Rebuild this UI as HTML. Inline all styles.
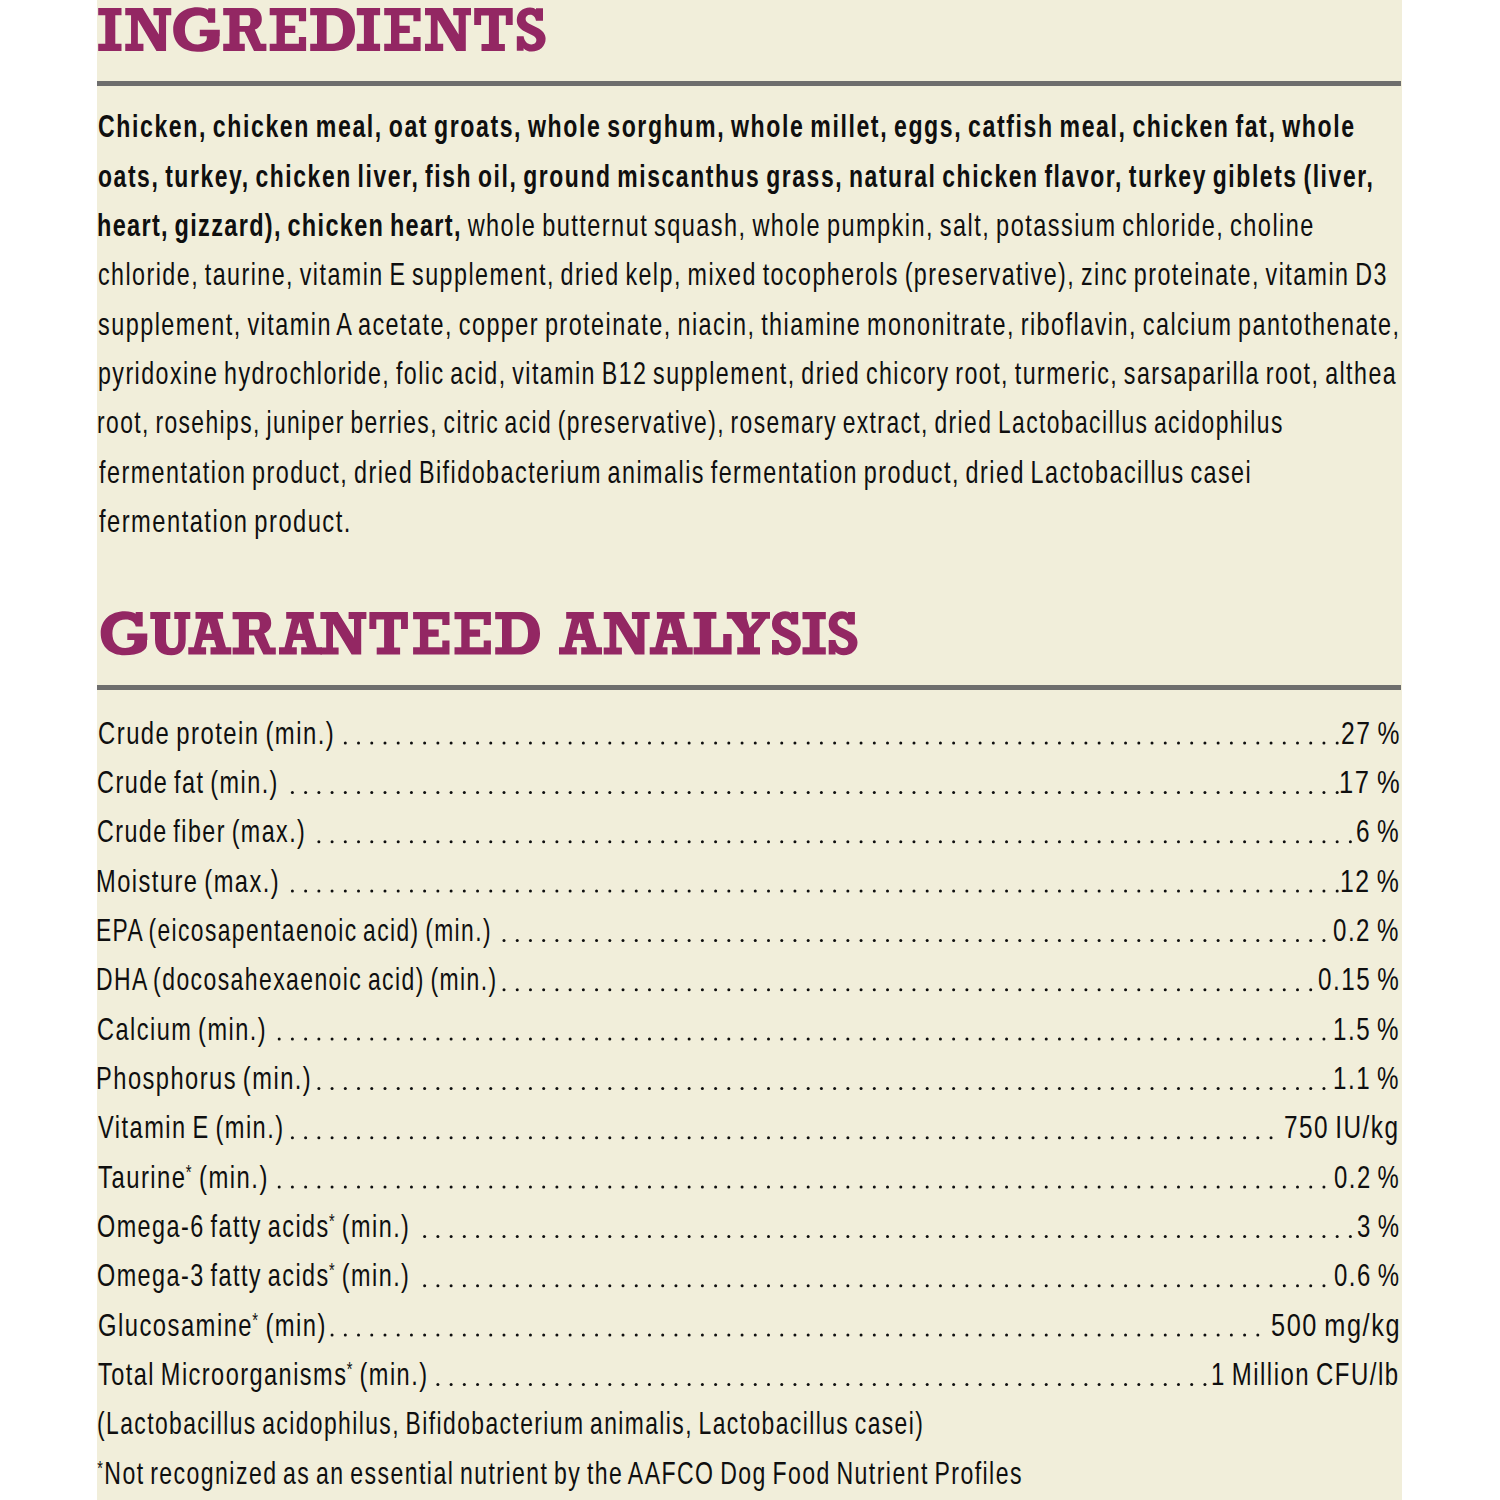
<!DOCTYPE html>
<html><head><meta charset="utf-8"><style>
html,body{margin:0;padding:0;background:#fff;}
body{width:1500px;height:1500px;position:relative;overflow:hidden;font-family:"Liberation Sans",sans-serif;color:#0f0f0f;}
.bg{position:absolute;left:97px;top:0;width:1305px;height:1500px;background:#f1eeda;}
.rule{position:absolute;left:97px;width:1304px;height:5px;background:#6e6e6d;}
.t{position:absolute;white-space:nowrap;font-size:32px;line-height:32px;height:32px;transform-origin:0 0;}
.h{position:absolute;white-space:nowrap;font-family:"Liberation Serif",serif;font-weight:bold;color:#932763;transform-origin:0 0;}
b{font-weight:bold;letter-spacing:2.2px;}
.t{letter-spacing:2.0px;word-spacing:-3px;}
sup{font-size:0.62em;vertical-align:0;position:relative;top:-0.45em;margin-left:-1px;}
</style></head><body>
<div class="bg"></div>
<div class="rule" style="top:81px"></div>
<div class="rule" style="top:685px"></div>

<div class="t" style="left:97.88px;top:110.31px;transform:scaleX(0.7220)"><b>Chicken, chicken meal, oat groats, whole sorghum, whole millet, eggs, catfish meal, chicken fat, whole</b></div>
<div class="t" style="left:98.08px;top:159.64px;transform:scaleX(0.7162)"><b>oats, turkey, chicken liver, fish oil, ground miscanthus grass, natural chicken flavor, turkey giblets (liver,</b></div>
<div class="t" style="left:97.33px;top:208.97px;transform:scaleX(0.7345)"><b style="letter-spacing:1.8px">heart, gizzard), chicken heart,</b> whole butternut squash, whole pumpkin, salt, potassium chloride, choline</div>
<div class="t" style="left:97.87px;top:258.30px;transform:scaleX(0.7272)">chloride, taurine, vitamin E supplement, dried kelp, mixed tocopherols (preservative), zinc proteinate, vitamin D3</div>
<div class="t" style="left:98.23px;top:307.63px;transform:scaleX(0.7318)">supplement, vitamin A acetate, copper proteinate, niacin, thiamine mononitrate, riboflavin, calcium pantothenate,</div>
<div class="t" style="left:98.15px;top:356.96px;transform:scaleX(0.7256)">pyridoxine hydrochloride, folic acid, vitamin B12 supplement, dried chicory root, turmeric, sarsaparilla root, althea</div>
<div class="t" style="left:97.17px;top:406.29px;transform:scaleX(0.7128)">root, rosehips, juniper berries, citric acid (preservative), rosemary extract, dried Lactobacillus acidophilus</div>
<div class="t" style="left:98.60px;top:455.62px;transform:scaleX(0.7299)">fermentation product, dried Bifidobacterium animalis fermentation product, dried Lactobacillus casei</div>
<div class="t" style="left:98.80px;top:504.95px;transform:scaleX(0.7406)">fermentation product.</div>
<div class="t" style="left:98.08px;top:716.61px;transform:scaleX(0.7448)">Crude protein (min.)</div>
<div class="t" style="left:1341.44px;top:716.61px;transform:scaleX(0.7705)">27 %</div>
<div class="t" style="left:97.10px;top:765.94px;transform:scaleX(0.7326)">Crude fat (min.)</div>
<div class="t" style="left:1339.40px;top:765.94px;transform:scaleX(0.7978)">17 %</div>
<div class="t" style="left:97.11px;top:815.27px;transform:scaleX(0.7270)">Crude fiber (max.)</div>
<div class="t" style="left:1356.26px;top:815.27px;transform:scaleX(0.7604)">6 %</div>
<div class="t" style="left:96.35px;top:864.60px;transform:scaleX(0.7389)">Moisture (max.)</div>
<div class="t" style="left:1339.85px;top:864.60px;transform:scaleX(0.7755)">12 %</div>
<div class="t" style="left:96.42px;top:913.93px;transform:scaleX(0.7115)">EPA (eicosapentaenoic acid) (min.)</div>
<div class="t" style="left:1333.45px;top:913.93px;transform:scaleX(0.7518)">0.2 %</div>
<div class="t" style="left:96.41px;top:963.26px;transform:scaleX(0.7168)">DHA (docosahexaenoic acid) (min.)</div>
<div class="t" style="left:1318.04px;top:963.26px;transform:scaleX(0.7567)">0.15 %</div>
<div class="t" style="left:97.10px;top:1012.59px;transform:scaleX(0.7353)">Calcium (min.)</div>
<div class="t" style="left:1333.09px;top:1012.59px;transform:scaleX(0.7544)">1.5 %</div>
<div class="t" style="left:96.35px;top:1061.92px;transform:scaleX(0.7392)">Phosphorus (min.)</div>
<div class="t" style="left:1333.09px;top:1061.92px;transform:scaleX(0.7544)">1.1 %</div>
<div class="t" style="left:98.20px;top:1111.25px;transform:scaleX(0.7374)">Vitamin E (min.)</div>
<div class="t" style="left:1284.46px;top:1111.25px;transform:scaleX(0.7608)">750 IU/kg</div>
<div class="t" style="left:97.83px;top:1160.58px;transform:scaleX(0.7449)">Taurine<sup>*</sup> (min.)</div>
<div class="t" style="left:1333.85px;top:1160.58px;transform:scaleX(0.7458)">0.2 %</div>
<div class="t" style="left:97.10px;top:1209.91px;transform:scaleX(0.7309)">Omega-6 fatty acids<sup>*</sup> (min.)</div>
<div class="t" style="left:1357.05px;top:1209.91px;transform:scaleX(0.7490)">3 %</div>
<div class="t" style="left:97.10px;top:1259.24px;transform:scaleX(0.7309)">Omega-3 fatty acids<sup>*</sup> (min.)</div>
<div class="t" style="left:1334.05px;top:1259.24px;transform:scaleX(0.7482)">0.6 %</div>
<div class="t" style="left:98.09px;top:1308.57px;transform:scaleX(0.7428)">Glucosamine<sup>*</sup> (min)</div>
<div class="t" style="left:1270.61px;top:1308.57px;transform:scaleX(0.7912)">500 mg/kg</div>
<div class="t" style="left:97.83px;top:1357.90px;transform:scaleX(0.7349)">Total Microorganisms<sup>*</sup> (min.)</div>
<div class="t" style="left:1210.50px;top:1357.90px;transform:scaleX(0.7490)">1 Million CFU/lb</div>
<div class="t" style="left:97.13px;top:1407.23px;transform:scaleX(0.7136)">(Lactobacillus acidophilus, Bifidobacterium animalis, Lactobacillus casei)</div>
<div class="t" style="left:98.40px;top:1456.56px;transform:scaleX(0.7207)"><sup>*</sup>Not recognized as an essential nutrient by the AAFCO Dog Food Nutrient Profiles</div>
<svg style="position:absolute;left:0;top:0" width="1500" height="1500" fill="#932763" fill-rule="evenodd"><path transform="translate(98.20,8.10) scale(1,1.0000)" d="M0,0H23.3V7.2H17.1V35.6H23.3V42.8H0V35.6H7.1V7.2H0Z"/><path transform="translate(125.25,8.10) scale(1,0.9953)" d="M0,0H17.4L33.6,26.4V7.2H28.2V0H46V7.2H40.8V43H31.2L12.6,11.8V35.8H18.2V43H0V35.8H5.8V7.2H0Z"/><path transform="translate(173.20,7.30) scale(1,1.0023)" d="M35,0.9H42V15.3H35C34,10.6 30.5,8.3 25,8.3C16.5,8.3 11.7,13.8 11.7,22.3C11.7,31 16.5,37 24.5,37C29.5,37 33.6,34.8 33.6,31V29H26.6V22.3H46.6V29H46.3V33C46.3,40 38,44.3 24,44.3C9.5,44.3 0,35.8 0,22.2C0,8.6 9.8,0 24.2,0C29,0 32.6,1 35,2.6Z"/><path transform="translate(223.20,8.10) scale(1,1.0047)" d="M0,0H28.4C34.5,0 38.6,4.5 38.6,11C38.6,16.3 35.8,19.8 31.6,21.4L37.6,35.6H43.2V42.6H30.8L21.4,23.6H16.4V35.6H21.6V42.6H0V35.6H6.2V7.2H0Z M16.4,7.2V17.8H24.5C26.6,17.8 27.2,16 27.2,12.5C27.2,9 26.6,7.2 24.5,7.2Z"/><path transform="translate(269.70,8.10) scale(1,1.0000)" d="M0,0H36.4V13.2H29.2V7.2H15.2V17.6H25.6V24.8H15.2V35.6H29.2V28.8H36.4V42.8H0V35.6H6.8V7.2H0Z"/><path transform="translate(310.20,8.10) scale(1,1.0000)" d="M0,0H24C36,0 44.8,7.5 44.8,21.4C44.8,35.3 36,42.8 24,42.8H0V35.6H6.8V7.2H0Z M16.4,7.2V35.6H22C29,35.6 32.8,30.8 32.8,21.4C32.8,12 29,7.2 22,7.2Z"/><path transform="translate(356.80,8.10) scale(1,1.0000)" d="M0,0H23.3V7.2H17.1V35.6H23.3V42.8H0V35.6H7.1V7.2H0Z"/><path transform="translate(384.20,8.10) scale(1,1.0000)" d="M0,0H36.4V13.2H29.2V7.2H15.2V17.6H25.6V24.8H15.2V35.6H29.2V28.8H36.4V42.8H0V35.6H6.8V7.2H0Z"/><path transform="translate(425.00,8.10) scale(1,0.9953)" d="M0,0H17.4L33.6,26.4V7.2H28.2V0H46V7.2H40.8V43H31.2L12.6,11.8V35.8H18.2V43H0V35.8H5.8V7.2H0Z"/><path transform="translate(474.20,8.10) scale(1,1.0071)" d="M0,0H38.5V16.9H31.6V7.4H24.7V35.6H30.7V42.5H7.3V35.6H14.7V7.4H6.9V16.9H0Z"/><path transform="translate(516.80,7.40) scale(1,1.0000)" d="M19.2,0.8H26.2V13.4H19.2C18.6,9.8 16.5,7.4 13.4,7.4C10.5,7.4 8.8,9.2 8.8,11.6C8.8,14.2 10.8,15.6 14.5,17.4L20.5,20.4C26,23.2 28.8,26.6 28.8,31.4C28.8,38.8 23,44.2 15,44.2C11.5,44.2 8.6,43 6.8,40.8V43.4H0V28.8H6.8C7.6,33.8 10.5,37 14.6,37C17.8,37 19.6,35.2 19.6,32.6C19.6,30.2 17.8,28.8 14,27L8,24C2.8,21.4 0,18 0,12.6C0,5.2 5.6,0 13.2,0C16,0 18,0.8 19.2,2.2Z"/><path transform="translate(100.70,611.20) scale(1,0.9953)" d="M35,0.9H42V15.3H35C34,10.6 30.5,8.3 25,8.3C16.5,8.3 11.7,13.8 11.7,22.3C11.7,31 16.5,37 24.5,37C29.5,37 33.6,34.8 33.6,31V29H26.6V22.3H46.6V29H46.3V33C46.3,40 38,44.3 24,44.3C9.5,44.3 0,35.8 0,22.2C0,8.6 9.8,0 24.2,0C29,0 32.6,1 35,2.6Z"/><path transform="translate(150.30,612.00) scale(1,0.9977)" d="M0,0H20V7H15.7V27.5C15.7,33.5 18,36.2 22,36.2C26,36.2 28,33.5 28,27.5V7H24V0H40V7H35.4V27.5C35.4,38 30,43.3 21,43.3C10,43.3 4.7,38 4.7,27.5V7H0Z"/><path transform="translate(188.30,612.00) scale(1,1.0024)" d="M7.2,0H34.8V6.8H29.2L37.6,35.2H43V42.4H22.2V35.2H28L25.8,28H14.6L12.8,35.2H17.8V42.4H0V35.2H5.6L12.8,6.8H7.2Z M20.4,10L17.2,21.6H23.6Z"/><path transform="translate(232.60,612.00) scale(1,0.9977)" d="M0,0H28.4C34.5,0 38.6,4.5 38.6,11C38.6,16.3 35.8,19.8 31.6,21.4L37.6,35.6H43.2V42.6H30.8L21.4,23.6H16.4V35.6H21.6V42.6H0V35.6H6.2V7.2H0Z M16.4,7.2V17.8H24.5C26.6,17.8 27.2,16 27.2,12.5C27.2,9 26.6,7.2 24.5,7.2Z"/><path transform="translate(279.00,612.00) scale(1,1.0024)" d="M7.2,0H34.8V6.8H29.2L37.6,35.2H43V42.4H22.2V35.2H28L25.8,28H14.6L12.8,35.2H17.8V42.4H0V35.2H5.6L12.8,6.8H7.2Z M20.4,10L17.2,21.6H23.6Z"/><path transform="translate(320.40,612.00) scale(1,0.9884)" d="M0,0H17.4L33.6,26.4V7.2H28.2V0H46V7.2H40.8V43H31.2L12.6,11.8V35.8H18.2V43H0V35.8H5.8V7.2H0Z"/><path transform="translate(369.40,612.00) scale(1,1.0000)" d="M0,0H38.5V16.9H31.6V7.4H24.7V35.6H30.7V42.5H7.3V35.6H14.7V7.4H6.9V16.9H0Z"/><path transform="translate(413.10,612.00) scale(1,0.9930)" d="M0,0H36.4V13.2H29.2V7.2H15.2V17.6H25.6V24.8H15.2V35.6H29.2V28.8H36.4V42.8H0V35.6H6.8V7.2H0Z"/><path transform="translate(454.50,612.00) scale(1,0.9930)" d="M0,0H36.4V13.2H29.2V7.2H15.2V17.6H25.6V24.8H15.2V35.6H29.2V28.8H36.4V42.8H0V35.6H6.8V7.2H0Z"/><path transform="translate(495.20,612.00) scale(1,0.9930)" d="M0,0H24C36,0 44.8,7.5 44.8,21.4C44.8,35.3 36,42.8 24,42.8H0V35.6H6.8V7.2H0Z M16.4,7.2V35.6H22C29,35.6 32.8,30.8 32.8,21.4C32.8,12 29,7.2 22,7.2Z"/><path transform="translate(559.00,612.00) scale(1,1.0024)" d="M7.2,0H34.8V6.8H29.2L37.6,35.2H43V42.4H22.2V35.2H28L25.8,28H14.6L12.8,35.2H17.8V42.4H0V35.2H5.6L12.8,6.8H7.2Z M20.4,10L17.2,21.6H23.6Z"/><path transform="translate(603.70,612.00) scale(1,0.9884)" d="M0,0H17.4L33.6,26.4V7.2H28.2V0H46V7.2H40.8V43H31.2L12.6,11.8V35.8H18.2V43H0V35.8H5.8V7.2H0Z"/><path transform="translate(649.70,612.00) scale(1,1.0024)" d="M7.2,0H34.8V6.8H29.2L37.6,35.2H43V42.4H22.2V35.2H28L25.8,28H14.6L12.8,35.2H17.8V42.4H0V35.2H5.6L12.8,6.8H7.2Z M20.4,10L17.2,21.6H23.6Z"/><path transform="translate(693.60,612.00) scale(1,1.0024)" d="M0,0H22.8V6.8H17.6V35.2H29.6V22H38V42.4H0V35.2H6V6.8H0Z"/><path transform="translate(726.80,612.00) scale(1,1.0024)" d="M0,0H20V6.8L22.8,16L32,6.8H24.8V0H43.2V6.8H39.2L27.2,22.4V35.2H33.2V42.4H10.4V35.2H16.4V22.4L4.8,6.8H0Z"/><path transform="translate(772.00,611.30) scale(1,0.9930)" d="M19.2,0.8H26.2V13.4H19.2C18.6,9.8 16.5,7.4 13.4,7.4C10.5,7.4 8.8,9.2 8.8,11.6C8.8,14.2 10.8,15.6 14.5,17.4L20.5,20.4C26,23.2 28.8,26.6 28.8,31.4C28.8,38.8 23,44.2 15,44.2C11.5,44.2 8.6,43 6.8,40.8V43.4H0V28.8H6.8C7.6,33.8 10.5,37 14.6,37C17.8,37 19.6,35.2 19.6,32.6C19.6,30.2 17.8,28.8 14,27L8,24C2.8,21.4 0,18 0,12.6C0,5.2 5.6,0 13.2,0C16,0 18,0.8 19.2,2.2Z"/><path transform="translate(802.50,612.00) scale(1,0.9930)" d="M0,0H23.3V7.2H17.1V35.6H23.3V42.8H0V35.6H7.1V7.2H0Z"/><path transform="translate(828.70,611.30) scale(1,0.9930)" d="M19.2,0.8H26.2V13.4H19.2C18.6,9.8 16.5,7.4 13.4,7.4C10.5,7.4 8.8,9.2 8.8,11.6C8.8,14.2 10.8,15.6 14.5,17.4L20.5,20.4C26,23.2 28.8,26.6 28.8,31.4C28.8,38.8 23,44.2 15,44.2C11.5,44.2 8.6,43 6.8,40.8V43.4H0V28.8H6.8C7.6,33.8 10.5,37 14.6,37C17.8,37 19.6,35.2 19.6,32.6C19.6,30.2 17.8,28.8 14,27L8,24C2.8,21.4 0,18 0,12.6C0,5.2 5.6,0 13.2,0C16,0 18,0.8 19.2,2.2Z"/></svg>
<svg style="position:absolute;left:0;top:0" width="1500" height="1500" fill="#0f0f0f"><circle cx="345.30" cy="743.1" r="1.5"/><circle cx="358.53" cy="743.1" r="1.5"/><circle cx="371.75" cy="743.1" r="1.5"/><circle cx="384.98" cy="743.1" r="1.5"/><circle cx="398.20" cy="743.1" r="1.5"/><circle cx="411.43" cy="743.1" r="1.5"/><circle cx="424.65" cy="743.1" r="1.5"/><circle cx="437.88" cy="743.1" r="1.5"/><circle cx="451.10" cy="743.1" r="1.5"/><circle cx="464.32" cy="743.1" r="1.5"/><circle cx="477.55" cy="743.1" r="1.5"/><circle cx="490.77" cy="743.1" r="1.5"/><circle cx="504.00" cy="743.1" r="1.5"/><circle cx="517.23" cy="743.1" r="1.5"/><circle cx="530.45" cy="743.1" r="1.5"/><circle cx="543.67" cy="743.1" r="1.5"/><circle cx="556.90" cy="743.1" r="1.5"/><circle cx="570.12" cy="743.1" r="1.5"/><circle cx="583.35" cy="743.1" r="1.5"/><circle cx="596.58" cy="743.1" r="1.5"/><circle cx="609.80" cy="743.1" r="1.5"/><circle cx="623.02" cy="743.1" r="1.5"/><circle cx="636.25" cy="743.1" r="1.5"/><circle cx="649.48" cy="743.1" r="1.5"/><circle cx="662.70" cy="743.1" r="1.5"/><circle cx="675.92" cy="743.1" r="1.5"/><circle cx="689.15" cy="743.1" r="1.5"/><circle cx="702.38" cy="743.1" r="1.5"/><circle cx="715.60" cy="743.1" r="1.5"/><circle cx="728.83" cy="743.1" r="1.5"/><circle cx="742.05" cy="743.1" r="1.5"/><circle cx="755.27" cy="743.1" r="1.5"/><circle cx="768.50" cy="743.1" r="1.5"/><circle cx="781.73" cy="743.1" r="1.5"/><circle cx="794.95" cy="743.1" r="1.5"/><circle cx="808.17" cy="743.1" r="1.5"/><circle cx="821.40" cy="743.1" r="1.5"/><circle cx="834.62" cy="743.1" r="1.5"/><circle cx="847.85" cy="743.1" r="1.5"/><circle cx="861.08" cy="743.1" r="1.5"/><circle cx="874.30" cy="743.1" r="1.5"/><circle cx="887.53" cy="743.1" r="1.5"/><circle cx="900.75" cy="743.1" r="1.5"/><circle cx="913.97" cy="743.1" r="1.5"/><circle cx="927.20" cy="743.1" r="1.5"/><circle cx="940.42" cy="743.1" r="1.5"/><circle cx="953.65" cy="743.1" r="1.5"/><circle cx="966.88" cy="743.1" r="1.5"/><circle cx="980.10" cy="743.1" r="1.5"/><circle cx="993.33" cy="743.1" r="1.5"/><circle cx="1006.55" cy="743.1" r="1.5"/><circle cx="1019.78" cy="743.1" r="1.5"/><circle cx="1033.00" cy="743.1" r="1.5"/><circle cx="1046.22" cy="743.1" r="1.5"/><circle cx="1059.45" cy="743.1" r="1.5"/><circle cx="1072.67" cy="743.1" r="1.5"/><circle cx="1085.90" cy="743.1" r="1.5"/><circle cx="1099.12" cy="743.1" r="1.5"/><circle cx="1112.35" cy="743.1" r="1.5"/><circle cx="1125.58" cy="743.1" r="1.5"/><circle cx="1138.80" cy="743.1" r="1.5"/><circle cx="1152.03" cy="743.1" r="1.5"/><circle cx="1165.25" cy="743.1" r="1.5"/><circle cx="1178.47" cy="743.1" r="1.5"/><circle cx="1191.70" cy="743.1" r="1.5"/><circle cx="1204.92" cy="743.1" r="1.5"/><circle cx="1218.15" cy="743.1" r="1.5"/><circle cx="1231.38" cy="743.1" r="1.5"/><circle cx="1244.60" cy="743.1" r="1.5"/><circle cx="1257.83" cy="743.1" r="1.5"/><circle cx="1271.05" cy="743.1" r="1.5"/><circle cx="1284.28" cy="743.1" r="1.5"/><circle cx="1297.50" cy="743.1" r="1.5"/><circle cx="1310.72" cy="743.1" r="1.5"/><circle cx="1323.95" cy="743.1" r="1.5"/><circle cx="1337.17" cy="743.1" r="1.5"/><circle cx="292.40" cy="792.4" r="1.5"/><circle cx="305.62" cy="792.4" r="1.5"/><circle cx="318.85" cy="792.4" r="1.5"/><circle cx="332.07" cy="792.4" r="1.5"/><circle cx="345.30" cy="792.4" r="1.5"/><circle cx="358.53" cy="792.4" r="1.5"/><circle cx="371.75" cy="792.4" r="1.5"/><circle cx="384.98" cy="792.4" r="1.5"/><circle cx="398.20" cy="792.4" r="1.5"/><circle cx="411.43" cy="792.4" r="1.5"/><circle cx="424.65" cy="792.4" r="1.5"/><circle cx="437.88" cy="792.4" r="1.5"/><circle cx="451.10" cy="792.4" r="1.5"/><circle cx="464.32" cy="792.4" r="1.5"/><circle cx="477.55" cy="792.4" r="1.5"/><circle cx="490.77" cy="792.4" r="1.5"/><circle cx="504.00" cy="792.4" r="1.5"/><circle cx="517.23" cy="792.4" r="1.5"/><circle cx="530.45" cy="792.4" r="1.5"/><circle cx="543.67" cy="792.4" r="1.5"/><circle cx="556.90" cy="792.4" r="1.5"/><circle cx="570.12" cy="792.4" r="1.5"/><circle cx="583.35" cy="792.4" r="1.5"/><circle cx="596.58" cy="792.4" r="1.5"/><circle cx="609.80" cy="792.4" r="1.5"/><circle cx="623.02" cy="792.4" r="1.5"/><circle cx="636.25" cy="792.4" r="1.5"/><circle cx="649.48" cy="792.4" r="1.5"/><circle cx="662.70" cy="792.4" r="1.5"/><circle cx="675.92" cy="792.4" r="1.5"/><circle cx="689.15" cy="792.4" r="1.5"/><circle cx="702.38" cy="792.4" r="1.5"/><circle cx="715.60" cy="792.4" r="1.5"/><circle cx="728.83" cy="792.4" r="1.5"/><circle cx="742.05" cy="792.4" r="1.5"/><circle cx="755.27" cy="792.4" r="1.5"/><circle cx="768.50" cy="792.4" r="1.5"/><circle cx="781.73" cy="792.4" r="1.5"/><circle cx="794.95" cy="792.4" r="1.5"/><circle cx="808.17" cy="792.4" r="1.5"/><circle cx="821.40" cy="792.4" r="1.5"/><circle cx="834.62" cy="792.4" r="1.5"/><circle cx="847.85" cy="792.4" r="1.5"/><circle cx="861.08" cy="792.4" r="1.5"/><circle cx="874.30" cy="792.4" r="1.5"/><circle cx="887.53" cy="792.4" r="1.5"/><circle cx="900.75" cy="792.4" r="1.5"/><circle cx="913.97" cy="792.4" r="1.5"/><circle cx="927.20" cy="792.4" r="1.5"/><circle cx="940.42" cy="792.4" r="1.5"/><circle cx="953.65" cy="792.4" r="1.5"/><circle cx="966.88" cy="792.4" r="1.5"/><circle cx="980.10" cy="792.4" r="1.5"/><circle cx="993.33" cy="792.4" r="1.5"/><circle cx="1006.55" cy="792.4" r="1.5"/><circle cx="1019.78" cy="792.4" r="1.5"/><circle cx="1033.00" cy="792.4" r="1.5"/><circle cx="1046.22" cy="792.4" r="1.5"/><circle cx="1059.45" cy="792.4" r="1.5"/><circle cx="1072.67" cy="792.4" r="1.5"/><circle cx="1085.90" cy="792.4" r="1.5"/><circle cx="1099.12" cy="792.4" r="1.5"/><circle cx="1112.35" cy="792.4" r="1.5"/><circle cx="1125.58" cy="792.4" r="1.5"/><circle cx="1138.80" cy="792.4" r="1.5"/><circle cx="1152.03" cy="792.4" r="1.5"/><circle cx="1165.25" cy="792.4" r="1.5"/><circle cx="1178.47" cy="792.4" r="1.5"/><circle cx="1191.70" cy="792.4" r="1.5"/><circle cx="1204.92" cy="792.4" r="1.5"/><circle cx="1218.15" cy="792.4" r="1.5"/><circle cx="1231.38" cy="792.4" r="1.5"/><circle cx="1244.60" cy="792.4" r="1.5"/><circle cx="1257.83" cy="792.4" r="1.5"/><circle cx="1271.05" cy="792.4" r="1.5"/><circle cx="1284.28" cy="792.4" r="1.5"/><circle cx="1297.50" cy="792.4" r="1.5"/><circle cx="1310.72" cy="792.4" r="1.5"/><circle cx="1323.95" cy="792.4" r="1.5"/><circle cx="1337.17" cy="792.4" r="1.5"/><circle cx="318.85" cy="841.8" r="1.5"/><circle cx="332.07" cy="841.8" r="1.5"/><circle cx="345.30" cy="841.8" r="1.5"/><circle cx="358.53" cy="841.8" r="1.5"/><circle cx="371.75" cy="841.8" r="1.5"/><circle cx="384.98" cy="841.8" r="1.5"/><circle cx="398.20" cy="841.8" r="1.5"/><circle cx="411.43" cy="841.8" r="1.5"/><circle cx="424.65" cy="841.8" r="1.5"/><circle cx="437.88" cy="841.8" r="1.5"/><circle cx="451.10" cy="841.8" r="1.5"/><circle cx="464.32" cy="841.8" r="1.5"/><circle cx="477.55" cy="841.8" r="1.5"/><circle cx="490.77" cy="841.8" r="1.5"/><circle cx="504.00" cy="841.8" r="1.5"/><circle cx="517.23" cy="841.8" r="1.5"/><circle cx="530.45" cy="841.8" r="1.5"/><circle cx="543.67" cy="841.8" r="1.5"/><circle cx="556.90" cy="841.8" r="1.5"/><circle cx="570.12" cy="841.8" r="1.5"/><circle cx="583.35" cy="841.8" r="1.5"/><circle cx="596.58" cy="841.8" r="1.5"/><circle cx="609.80" cy="841.8" r="1.5"/><circle cx="623.02" cy="841.8" r="1.5"/><circle cx="636.25" cy="841.8" r="1.5"/><circle cx="649.48" cy="841.8" r="1.5"/><circle cx="662.70" cy="841.8" r="1.5"/><circle cx="675.92" cy="841.8" r="1.5"/><circle cx="689.15" cy="841.8" r="1.5"/><circle cx="702.38" cy="841.8" r="1.5"/><circle cx="715.60" cy="841.8" r="1.5"/><circle cx="728.83" cy="841.8" r="1.5"/><circle cx="742.05" cy="841.8" r="1.5"/><circle cx="755.27" cy="841.8" r="1.5"/><circle cx="768.50" cy="841.8" r="1.5"/><circle cx="781.73" cy="841.8" r="1.5"/><circle cx="794.95" cy="841.8" r="1.5"/><circle cx="808.17" cy="841.8" r="1.5"/><circle cx="821.40" cy="841.8" r="1.5"/><circle cx="834.62" cy="841.8" r="1.5"/><circle cx="847.85" cy="841.8" r="1.5"/><circle cx="861.08" cy="841.8" r="1.5"/><circle cx="874.30" cy="841.8" r="1.5"/><circle cx="887.53" cy="841.8" r="1.5"/><circle cx="900.75" cy="841.8" r="1.5"/><circle cx="913.97" cy="841.8" r="1.5"/><circle cx="927.20" cy="841.8" r="1.5"/><circle cx="940.42" cy="841.8" r="1.5"/><circle cx="953.65" cy="841.8" r="1.5"/><circle cx="966.88" cy="841.8" r="1.5"/><circle cx="980.10" cy="841.8" r="1.5"/><circle cx="993.33" cy="841.8" r="1.5"/><circle cx="1006.55" cy="841.8" r="1.5"/><circle cx="1019.78" cy="841.8" r="1.5"/><circle cx="1033.00" cy="841.8" r="1.5"/><circle cx="1046.22" cy="841.8" r="1.5"/><circle cx="1059.45" cy="841.8" r="1.5"/><circle cx="1072.67" cy="841.8" r="1.5"/><circle cx="1085.90" cy="841.8" r="1.5"/><circle cx="1099.12" cy="841.8" r="1.5"/><circle cx="1112.35" cy="841.8" r="1.5"/><circle cx="1125.58" cy="841.8" r="1.5"/><circle cx="1138.80" cy="841.8" r="1.5"/><circle cx="1152.03" cy="841.8" r="1.5"/><circle cx="1165.25" cy="841.8" r="1.5"/><circle cx="1178.47" cy="841.8" r="1.5"/><circle cx="1191.70" cy="841.8" r="1.5"/><circle cx="1204.92" cy="841.8" r="1.5"/><circle cx="1218.15" cy="841.8" r="1.5"/><circle cx="1231.38" cy="841.8" r="1.5"/><circle cx="1244.60" cy="841.8" r="1.5"/><circle cx="1257.83" cy="841.8" r="1.5"/><circle cx="1271.05" cy="841.8" r="1.5"/><circle cx="1284.28" cy="841.8" r="1.5"/><circle cx="1297.50" cy="841.8" r="1.5"/><circle cx="1310.72" cy="841.8" r="1.5"/><circle cx="1323.95" cy="841.8" r="1.5"/><circle cx="1337.17" cy="841.8" r="1.5"/><circle cx="1350.40" cy="841.8" r="1.5"/><circle cx="292.40" cy="891.1" r="1.5"/><circle cx="305.62" cy="891.1" r="1.5"/><circle cx="318.85" cy="891.1" r="1.5"/><circle cx="332.07" cy="891.1" r="1.5"/><circle cx="345.30" cy="891.1" r="1.5"/><circle cx="358.53" cy="891.1" r="1.5"/><circle cx="371.75" cy="891.1" r="1.5"/><circle cx="384.98" cy="891.1" r="1.5"/><circle cx="398.20" cy="891.1" r="1.5"/><circle cx="411.43" cy="891.1" r="1.5"/><circle cx="424.65" cy="891.1" r="1.5"/><circle cx="437.88" cy="891.1" r="1.5"/><circle cx="451.10" cy="891.1" r="1.5"/><circle cx="464.32" cy="891.1" r="1.5"/><circle cx="477.55" cy="891.1" r="1.5"/><circle cx="490.77" cy="891.1" r="1.5"/><circle cx="504.00" cy="891.1" r="1.5"/><circle cx="517.23" cy="891.1" r="1.5"/><circle cx="530.45" cy="891.1" r="1.5"/><circle cx="543.67" cy="891.1" r="1.5"/><circle cx="556.90" cy="891.1" r="1.5"/><circle cx="570.12" cy="891.1" r="1.5"/><circle cx="583.35" cy="891.1" r="1.5"/><circle cx="596.58" cy="891.1" r="1.5"/><circle cx="609.80" cy="891.1" r="1.5"/><circle cx="623.02" cy="891.1" r="1.5"/><circle cx="636.25" cy="891.1" r="1.5"/><circle cx="649.48" cy="891.1" r="1.5"/><circle cx="662.70" cy="891.1" r="1.5"/><circle cx="675.92" cy="891.1" r="1.5"/><circle cx="689.15" cy="891.1" r="1.5"/><circle cx="702.38" cy="891.1" r="1.5"/><circle cx="715.60" cy="891.1" r="1.5"/><circle cx="728.83" cy="891.1" r="1.5"/><circle cx="742.05" cy="891.1" r="1.5"/><circle cx="755.27" cy="891.1" r="1.5"/><circle cx="768.50" cy="891.1" r="1.5"/><circle cx="781.73" cy="891.1" r="1.5"/><circle cx="794.95" cy="891.1" r="1.5"/><circle cx="808.17" cy="891.1" r="1.5"/><circle cx="821.40" cy="891.1" r="1.5"/><circle cx="834.62" cy="891.1" r="1.5"/><circle cx="847.85" cy="891.1" r="1.5"/><circle cx="861.08" cy="891.1" r="1.5"/><circle cx="874.30" cy="891.1" r="1.5"/><circle cx="887.53" cy="891.1" r="1.5"/><circle cx="900.75" cy="891.1" r="1.5"/><circle cx="913.97" cy="891.1" r="1.5"/><circle cx="927.20" cy="891.1" r="1.5"/><circle cx="940.42" cy="891.1" r="1.5"/><circle cx="953.65" cy="891.1" r="1.5"/><circle cx="966.88" cy="891.1" r="1.5"/><circle cx="980.10" cy="891.1" r="1.5"/><circle cx="993.33" cy="891.1" r="1.5"/><circle cx="1006.55" cy="891.1" r="1.5"/><circle cx="1019.78" cy="891.1" r="1.5"/><circle cx="1033.00" cy="891.1" r="1.5"/><circle cx="1046.22" cy="891.1" r="1.5"/><circle cx="1059.45" cy="891.1" r="1.5"/><circle cx="1072.67" cy="891.1" r="1.5"/><circle cx="1085.90" cy="891.1" r="1.5"/><circle cx="1099.12" cy="891.1" r="1.5"/><circle cx="1112.35" cy="891.1" r="1.5"/><circle cx="1125.58" cy="891.1" r="1.5"/><circle cx="1138.80" cy="891.1" r="1.5"/><circle cx="1152.03" cy="891.1" r="1.5"/><circle cx="1165.25" cy="891.1" r="1.5"/><circle cx="1178.47" cy="891.1" r="1.5"/><circle cx="1191.70" cy="891.1" r="1.5"/><circle cx="1204.92" cy="891.1" r="1.5"/><circle cx="1218.15" cy="891.1" r="1.5"/><circle cx="1231.38" cy="891.1" r="1.5"/><circle cx="1244.60" cy="891.1" r="1.5"/><circle cx="1257.83" cy="891.1" r="1.5"/><circle cx="1271.05" cy="891.1" r="1.5"/><circle cx="1284.28" cy="891.1" r="1.5"/><circle cx="1297.50" cy="891.1" r="1.5"/><circle cx="1310.72" cy="891.1" r="1.5"/><circle cx="1323.95" cy="891.1" r="1.5"/><circle cx="1337.17" cy="891.1" r="1.5"/><circle cx="504.00" cy="940.4" r="1.5"/><circle cx="517.23" cy="940.4" r="1.5"/><circle cx="530.45" cy="940.4" r="1.5"/><circle cx="543.67" cy="940.4" r="1.5"/><circle cx="556.90" cy="940.4" r="1.5"/><circle cx="570.12" cy="940.4" r="1.5"/><circle cx="583.35" cy="940.4" r="1.5"/><circle cx="596.58" cy="940.4" r="1.5"/><circle cx="609.80" cy="940.4" r="1.5"/><circle cx="623.02" cy="940.4" r="1.5"/><circle cx="636.25" cy="940.4" r="1.5"/><circle cx="649.48" cy="940.4" r="1.5"/><circle cx="662.70" cy="940.4" r="1.5"/><circle cx="675.92" cy="940.4" r="1.5"/><circle cx="689.15" cy="940.4" r="1.5"/><circle cx="702.38" cy="940.4" r="1.5"/><circle cx="715.60" cy="940.4" r="1.5"/><circle cx="728.83" cy="940.4" r="1.5"/><circle cx="742.05" cy="940.4" r="1.5"/><circle cx="755.27" cy="940.4" r="1.5"/><circle cx="768.50" cy="940.4" r="1.5"/><circle cx="781.73" cy="940.4" r="1.5"/><circle cx="794.95" cy="940.4" r="1.5"/><circle cx="808.17" cy="940.4" r="1.5"/><circle cx="821.40" cy="940.4" r="1.5"/><circle cx="834.62" cy="940.4" r="1.5"/><circle cx="847.85" cy="940.4" r="1.5"/><circle cx="861.08" cy="940.4" r="1.5"/><circle cx="874.30" cy="940.4" r="1.5"/><circle cx="887.53" cy="940.4" r="1.5"/><circle cx="900.75" cy="940.4" r="1.5"/><circle cx="913.97" cy="940.4" r="1.5"/><circle cx="927.20" cy="940.4" r="1.5"/><circle cx="940.42" cy="940.4" r="1.5"/><circle cx="953.65" cy="940.4" r="1.5"/><circle cx="966.88" cy="940.4" r="1.5"/><circle cx="980.10" cy="940.4" r="1.5"/><circle cx="993.33" cy="940.4" r="1.5"/><circle cx="1006.55" cy="940.4" r="1.5"/><circle cx="1019.78" cy="940.4" r="1.5"/><circle cx="1033.00" cy="940.4" r="1.5"/><circle cx="1046.22" cy="940.4" r="1.5"/><circle cx="1059.45" cy="940.4" r="1.5"/><circle cx="1072.67" cy="940.4" r="1.5"/><circle cx="1085.90" cy="940.4" r="1.5"/><circle cx="1099.12" cy="940.4" r="1.5"/><circle cx="1112.35" cy="940.4" r="1.5"/><circle cx="1125.58" cy="940.4" r="1.5"/><circle cx="1138.80" cy="940.4" r="1.5"/><circle cx="1152.03" cy="940.4" r="1.5"/><circle cx="1165.25" cy="940.4" r="1.5"/><circle cx="1178.47" cy="940.4" r="1.5"/><circle cx="1191.70" cy="940.4" r="1.5"/><circle cx="1204.92" cy="940.4" r="1.5"/><circle cx="1218.15" cy="940.4" r="1.5"/><circle cx="1231.38" cy="940.4" r="1.5"/><circle cx="1244.60" cy="940.4" r="1.5"/><circle cx="1257.83" cy="940.4" r="1.5"/><circle cx="1271.05" cy="940.4" r="1.5"/><circle cx="1284.28" cy="940.4" r="1.5"/><circle cx="1297.50" cy="940.4" r="1.5"/><circle cx="1310.72" cy="940.4" r="1.5"/><circle cx="1323.95" cy="940.4" r="1.5"/><circle cx="504.00" cy="989.8" r="1.5"/><circle cx="517.23" cy="989.8" r="1.5"/><circle cx="530.45" cy="989.8" r="1.5"/><circle cx="543.67" cy="989.8" r="1.5"/><circle cx="556.90" cy="989.8" r="1.5"/><circle cx="570.12" cy="989.8" r="1.5"/><circle cx="583.35" cy="989.8" r="1.5"/><circle cx="596.58" cy="989.8" r="1.5"/><circle cx="609.80" cy="989.8" r="1.5"/><circle cx="623.02" cy="989.8" r="1.5"/><circle cx="636.25" cy="989.8" r="1.5"/><circle cx="649.48" cy="989.8" r="1.5"/><circle cx="662.70" cy="989.8" r="1.5"/><circle cx="675.92" cy="989.8" r="1.5"/><circle cx="689.15" cy="989.8" r="1.5"/><circle cx="702.38" cy="989.8" r="1.5"/><circle cx="715.60" cy="989.8" r="1.5"/><circle cx="728.83" cy="989.8" r="1.5"/><circle cx="742.05" cy="989.8" r="1.5"/><circle cx="755.27" cy="989.8" r="1.5"/><circle cx="768.50" cy="989.8" r="1.5"/><circle cx="781.73" cy="989.8" r="1.5"/><circle cx="794.95" cy="989.8" r="1.5"/><circle cx="808.17" cy="989.8" r="1.5"/><circle cx="821.40" cy="989.8" r="1.5"/><circle cx="834.62" cy="989.8" r="1.5"/><circle cx="847.85" cy="989.8" r="1.5"/><circle cx="861.08" cy="989.8" r="1.5"/><circle cx="874.30" cy="989.8" r="1.5"/><circle cx="887.53" cy="989.8" r="1.5"/><circle cx="900.75" cy="989.8" r="1.5"/><circle cx="913.97" cy="989.8" r="1.5"/><circle cx="927.20" cy="989.8" r="1.5"/><circle cx="940.42" cy="989.8" r="1.5"/><circle cx="953.65" cy="989.8" r="1.5"/><circle cx="966.88" cy="989.8" r="1.5"/><circle cx="980.10" cy="989.8" r="1.5"/><circle cx="993.33" cy="989.8" r="1.5"/><circle cx="1006.55" cy="989.8" r="1.5"/><circle cx="1019.78" cy="989.8" r="1.5"/><circle cx="1033.00" cy="989.8" r="1.5"/><circle cx="1046.22" cy="989.8" r="1.5"/><circle cx="1059.45" cy="989.8" r="1.5"/><circle cx="1072.67" cy="989.8" r="1.5"/><circle cx="1085.90" cy="989.8" r="1.5"/><circle cx="1099.12" cy="989.8" r="1.5"/><circle cx="1112.35" cy="989.8" r="1.5"/><circle cx="1125.58" cy="989.8" r="1.5"/><circle cx="1138.80" cy="989.8" r="1.5"/><circle cx="1152.03" cy="989.8" r="1.5"/><circle cx="1165.25" cy="989.8" r="1.5"/><circle cx="1178.47" cy="989.8" r="1.5"/><circle cx="1191.70" cy="989.8" r="1.5"/><circle cx="1204.92" cy="989.8" r="1.5"/><circle cx="1218.15" cy="989.8" r="1.5"/><circle cx="1231.38" cy="989.8" r="1.5"/><circle cx="1244.60" cy="989.8" r="1.5"/><circle cx="1257.83" cy="989.8" r="1.5"/><circle cx="1271.05" cy="989.8" r="1.5"/><circle cx="1284.28" cy="989.8" r="1.5"/><circle cx="1297.50" cy="989.8" r="1.5"/><circle cx="1310.72" cy="989.8" r="1.5"/><circle cx="279.18" cy="1039.1" r="1.5"/><circle cx="292.40" cy="1039.1" r="1.5"/><circle cx="305.62" cy="1039.1" r="1.5"/><circle cx="318.85" cy="1039.1" r="1.5"/><circle cx="332.07" cy="1039.1" r="1.5"/><circle cx="345.30" cy="1039.1" r="1.5"/><circle cx="358.53" cy="1039.1" r="1.5"/><circle cx="371.75" cy="1039.1" r="1.5"/><circle cx="384.98" cy="1039.1" r="1.5"/><circle cx="398.20" cy="1039.1" r="1.5"/><circle cx="411.43" cy="1039.1" r="1.5"/><circle cx="424.65" cy="1039.1" r="1.5"/><circle cx="437.88" cy="1039.1" r="1.5"/><circle cx="451.10" cy="1039.1" r="1.5"/><circle cx="464.32" cy="1039.1" r="1.5"/><circle cx="477.55" cy="1039.1" r="1.5"/><circle cx="490.77" cy="1039.1" r="1.5"/><circle cx="504.00" cy="1039.1" r="1.5"/><circle cx="517.23" cy="1039.1" r="1.5"/><circle cx="530.45" cy="1039.1" r="1.5"/><circle cx="543.67" cy="1039.1" r="1.5"/><circle cx="556.90" cy="1039.1" r="1.5"/><circle cx="570.12" cy="1039.1" r="1.5"/><circle cx="583.35" cy="1039.1" r="1.5"/><circle cx="596.58" cy="1039.1" r="1.5"/><circle cx="609.80" cy="1039.1" r="1.5"/><circle cx="623.02" cy="1039.1" r="1.5"/><circle cx="636.25" cy="1039.1" r="1.5"/><circle cx="649.48" cy="1039.1" r="1.5"/><circle cx="662.70" cy="1039.1" r="1.5"/><circle cx="675.92" cy="1039.1" r="1.5"/><circle cx="689.15" cy="1039.1" r="1.5"/><circle cx="702.38" cy="1039.1" r="1.5"/><circle cx="715.60" cy="1039.1" r="1.5"/><circle cx="728.83" cy="1039.1" r="1.5"/><circle cx="742.05" cy="1039.1" r="1.5"/><circle cx="755.27" cy="1039.1" r="1.5"/><circle cx="768.50" cy="1039.1" r="1.5"/><circle cx="781.73" cy="1039.1" r="1.5"/><circle cx="794.95" cy="1039.1" r="1.5"/><circle cx="808.17" cy="1039.1" r="1.5"/><circle cx="821.40" cy="1039.1" r="1.5"/><circle cx="834.62" cy="1039.1" r="1.5"/><circle cx="847.85" cy="1039.1" r="1.5"/><circle cx="861.08" cy="1039.1" r="1.5"/><circle cx="874.30" cy="1039.1" r="1.5"/><circle cx="887.53" cy="1039.1" r="1.5"/><circle cx="900.75" cy="1039.1" r="1.5"/><circle cx="913.97" cy="1039.1" r="1.5"/><circle cx="927.20" cy="1039.1" r="1.5"/><circle cx="940.42" cy="1039.1" r="1.5"/><circle cx="953.65" cy="1039.1" r="1.5"/><circle cx="966.88" cy="1039.1" r="1.5"/><circle cx="980.10" cy="1039.1" r="1.5"/><circle cx="993.33" cy="1039.1" r="1.5"/><circle cx="1006.55" cy="1039.1" r="1.5"/><circle cx="1019.78" cy="1039.1" r="1.5"/><circle cx="1033.00" cy="1039.1" r="1.5"/><circle cx="1046.22" cy="1039.1" r="1.5"/><circle cx="1059.45" cy="1039.1" r="1.5"/><circle cx="1072.67" cy="1039.1" r="1.5"/><circle cx="1085.90" cy="1039.1" r="1.5"/><circle cx="1099.12" cy="1039.1" r="1.5"/><circle cx="1112.35" cy="1039.1" r="1.5"/><circle cx="1125.58" cy="1039.1" r="1.5"/><circle cx="1138.80" cy="1039.1" r="1.5"/><circle cx="1152.03" cy="1039.1" r="1.5"/><circle cx="1165.25" cy="1039.1" r="1.5"/><circle cx="1178.47" cy="1039.1" r="1.5"/><circle cx="1191.70" cy="1039.1" r="1.5"/><circle cx="1204.92" cy="1039.1" r="1.5"/><circle cx="1218.15" cy="1039.1" r="1.5"/><circle cx="1231.38" cy="1039.1" r="1.5"/><circle cx="1244.60" cy="1039.1" r="1.5"/><circle cx="1257.83" cy="1039.1" r="1.5"/><circle cx="1271.05" cy="1039.1" r="1.5"/><circle cx="1284.28" cy="1039.1" r="1.5"/><circle cx="1297.50" cy="1039.1" r="1.5"/><circle cx="1310.72" cy="1039.1" r="1.5"/><circle cx="1323.95" cy="1039.1" r="1.5"/><circle cx="318.85" cy="1088.4" r="1.5"/><circle cx="332.07" cy="1088.4" r="1.5"/><circle cx="345.30" cy="1088.4" r="1.5"/><circle cx="358.53" cy="1088.4" r="1.5"/><circle cx="371.75" cy="1088.4" r="1.5"/><circle cx="384.98" cy="1088.4" r="1.5"/><circle cx="398.20" cy="1088.4" r="1.5"/><circle cx="411.43" cy="1088.4" r="1.5"/><circle cx="424.65" cy="1088.4" r="1.5"/><circle cx="437.88" cy="1088.4" r="1.5"/><circle cx="451.10" cy="1088.4" r="1.5"/><circle cx="464.32" cy="1088.4" r="1.5"/><circle cx="477.55" cy="1088.4" r="1.5"/><circle cx="490.77" cy="1088.4" r="1.5"/><circle cx="504.00" cy="1088.4" r="1.5"/><circle cx="517.23" cy="1088.4" r="1.5"/><circle cx="530.45" cy="1088.4" r="1.5"/><circle cx="543.67" cy="1088.4" r="1.5"/><circle cx="556.90" cy="1088.4" r="1.5"/><circle cx="570.12" cy="1088.4" r="1.5"/><circle cx="583.35" cy="1088.4" r="1.5"/><circle cx="596.58" cy="1088.4" r="1.5"/><circle cx="609.80" cy="1088.4" r="1.5"/><circle cx="623.02" cy="1088.4" r="1.5"/><circle cx="636.25" cy="1088.4" r="1.5"/><circle cx="649.48" cy="1088.4" r="1.5"/><circle cx="662.70" cy="1088.4" r="1.5"/><circle cx="675.92" cy="1088.4" r="1.5"/><circle cx="689.15" cy="1088.4" r="1.5"/><circle cx="702.38" cy="1088.4" r="1.5"/><circle cx="715.60" cy="1088.4" r="1.5"/><circle cx="728.83" cy="1088.4" r="1.5"/><circle cx="742.05" cy="1088.4" r="1.5"/><circle cx="755.27" cy="1088.4" r="1.5"/><circle cx="768.50" cy="1088.4" r="1.5"/><circle cx="781.73" cy="1088.4" r="1.5"/><circle cx="794.95" cy="1088.4" r="1.5"/><circle cx="808.17" cy="1088.4" r="1.5"/><circle cx="821.40" cy="1088.4" r="1.5"/><circle cx="834.62" cy="1088.4" r="1.5"/><circle cx="847.85" cy="1088.4" r="1.5"/><circle cx="861.08" cy="1088.4" r="1.5"/><circle cx="874.30" cy="1088.4" r="1.5"/><circle cx="887.53" cy="1088.4" r="1.5"/><circle cx="900.75" cy="1088.4" r="1.5"/><circle cx="913.97" cy="1088.4" r="1.5"/><circle cx="927.20" cy="1088.4" r="1.5"/><circle cx="940.42" cy="1088.4" r="1.5"/><circle cx="953.65" cy="1088.4" r="1.5"/><circle cx="966.88" cy="1088.4" r="1.5"/><circle cx="980.10" cy="1088.4" r="1.5"/><circle cx="993.33" cy="1088.4" r="1.5"/><circle cx="1006.55" cy="1088.4" r="1.5"/><circle cx="1019.78" cy="1088.4" r="1.5"/><circle cx="1033.00" cy="1088.4" r="1.5"/><circle cx="1046.22" cy="1088.4" r="1.5"/><circle cx="1059.45" cy="1088.4" r="1.5"/><circle cx="1072.67" cy="1088.4" r="1.5"/><circle cx="1085.90" cy="1088.4" r="1.5"/><circle cx="1099.12" cy="1088.4" r="1.5"/><circle cx="1112.35" cy="1088.4" r="1.5"/><circle cx="1125.58" cy="1088.4" r="1.5"/><circle cx="1138.80" cy="1088.4" r="1.5"/><circle cx="1152.03" cy="1088.4" r="1.5"/><circle cx="1165.25" cy="1088.4" r="1.5"/><circle cx="1178.47" cy="1088.4" r="1.5"/><circle cx="1191.70" cy="1088.4" r="1.5"/><circle cx="1204.92" cy="1088.4" r="1.5"/><circle cx="1218.15" cy="1088.4" r="1.5"/><circle cx="1231.38" cy="1088.4" r="1.5"/><circle cx="1244.60" cy="1088.4" r="1.5"/><circle cx="1257.83" cy="1088.4" r="1.5"/><circle cx="1271.05" cy="1088.4" r="1.5"/><circle cx="1284.28" cy="1088.4" r="1.5"/><circle cx="1297.50" cy="1088.4" r="1.5"/><circle cx="1310.72" cy="1088.4" r="1.5"/><circle cx="1323.95" cy="1088.4" r="1.5"/><circle cx="292.40" cy="1137.7" r="1.5"/><circle cx="305.62" cy="1137.7" r="1.5"/><circle cx="318.85" cy="1137.7" r="1.5"/><circle cx="332.07" cy="1137.7" r="1.5"/><circle cx="345.30" cy="1137.7" r="1.5"/><circle cx="358.53" cy="1137.7" r="1.5"/><circle cx="371.75" cy="1137.7" r="1.5"/><circle cx="384.98" cy="1137.7" r="1.5"/><circle cx="398.20" cy="1137.7" r="1.5"/><circle cx="411.43" cy="1137.7" r="1.5"/><circle cx="424.65" cy="1137.7" r="1.5"/><circle cx="437.88" cy="1137.7" r="1.5"/><circle cx="451.10" cy="1137.7" r="1.5"/><circle cx="464.32" cy="1137.7" r="1.5"/><circle cx="477.55" cy="1137.7" r="1.5"/><circle cx="490.77" cy="1137.7" r="1.5"/><circle cx="504.00" cy="1137.7" r="1.5"/><circle cx="517.23" cy="1137.7" r="1.5"/><circle cx="530.45" cy="1137.7" r="1.5"/><circle cx="543.67" cy="1137.7" r="1.5"/><circle cx="556.90" cy="1137.7" r="1.5"/><circle cx="570.12" cy="1137.7" r="1.5"/><circle cx="583.35" cy="1137.7" r="1.5"/><circle cx="596.58" cy="1137.7" r="1.5"/><circle cx="609.80" cy="1137.7" r="1.5"/><circle cx="623.02" cy="1137.7" r="1.5"/><circle cx="636.25" cy="1137.7" r="1.5"/><circle cx="649.48" cy="1137.7" r="1.5"/><circle cx="662.70" cy="1137.7" r="1.5"/><circle cx="675.92" cy="1137.7" r="1.5"/><circle cx="689.15" cy="1137.7" r="1.5"/><circle cx="702.38" cy="1137.7" r="1.5"/><circle cx="715.60" cy="1137.7" r="1.5"/><circle cx="728.83" cy="1137.7" r="1.5"/><circle cx="742.05" cy="1137.7" r="1.5"/><circle cx="755.27" cy="1137.7" r="1.5"/><circle cx="768.50" cy="1137.7" r="1.5"/><circle cx="781.73" cy="1137.7" r="1.5"/><circle cx="794.95" cy="1137.7" r="1.5"/><circle cx="808.17" cy="1137.7" r="1.5"/><circle cx="821.40" cy="1137.7" r="1.5"/><circle cx="834.62" cy="1137.7" r="1.5"/><circle cx="847.85" cy="1137.7" r="1.5"/><circle cx="861.08" cy="1137.7" r="1.5"/><circle cx="874.30" cy="1137.7" r="1.5"/><circle cx="887.53" cy="1137.7" r="1.5"/><circle cx="900.75" cy="1137.7" r="1.5"/><circle cx="913.97" cy="1137.7" r="1.5"/><circle cx="927.20" cy="1137.7" r="1.5"/><circle cx="940.42" cy="1137.7" r="1.5"/><circle cx="953.65" cy="1137.7" r="1.5"/><circle cx="966.88" cy="1137.7" r="1.5"/><circle cx="980.10" cy="1137.7" r="1.5"/><circle cx="993.33" cy="1137.7" r="1.5"/><circle cx="1006.55" cy="1137.7" r="1.5"/><circle cx="1019.78" cy="1137.7" r="1.5"/><circle cx="1033.00" cy="1137.7" r="1.5"/><circle cx="1046.22" cy="1137.7" r="1.5"/><circle cx="1059.45" cy="1137.7" r="1.5"/><circle cx="1072.67" cy="1137.7" r="1.5"/><circle cx="1085.90" cy="1137.7" r="1.5"/><circle cx="1099.12" cy="1137.7" r="1.5"/><circle cx="1112.35" cy="1137.7" r="1.5"/><circle cx="1125.58" cy="1137.7" r="1.5"/><circle cx="1138.80" cy="1137.7" r="1.5"/><circle cx="1152.03" cy="1137.7" r="1.5"/><circle cx="1165.25" cy="1137.7" r="1.5"/><circle cx="1178.47" cy="1137.7" r="1.5"/><circle cx="1191.70" cy="1137.7" r="1.5"/><circle cx="1204.92" cy="1137.7" r="1.5"/><circle cx="1218.15" cy="1137.7" r="1.5"/><circle cx="1231.38" cy="1137.7" r="1.5"/><circle cx="1244.60" cy="1137.7" r="1.5"/><circle cx="1257.83" cy="1137.7" r="1.5"/><circle cx="1271.05" cy="1137.7" r="1.5"/><circle cx="279.18" cy="1187.1" r="1.5"/><circle cx="292.40" cy="1187.1" r="1.5"/><circle cx="305.62" cy="1187.1" r="1.5"/><circle cx="318.85" cy="1187.1" r="1.5"/><circle cx="332.07" cy="1187.1" r="1.5"/><circle cx="345.30" cy="1187.1" r="1.5"/><circle cx="358.53" cy="1187.1" r="1.5"/><circle cx="371.75" cy="1187.1" r="1.5"/><circle cx="384.98" cy="1187.1" r="1.5"/><circle cx="398.20" cy="1187.1" r="1.5"/><circle cx="411.43" cy="1187.1" r="1.5"/><circle cx="424.65" cy="1187.1" r="1.5"/><circle cx="437.88" cy="1187.1" r="1.5"/><circle cx="451.10" cy="1187.1" r="1.5"/><circle cx="464.32" cy="1187.1" r="1.5"/><circle cx="477.55" cy="1187.1" r="1.5"/><circle cx="490.77" cy="1187.1" r="1.5"/><circle cx="504.00" cy="1187.1" r="1.5"/><circle cx="517.23" cy="1187.1" r="1.5"/><circle cx="530.45" cy="1187.1" r="1.5"/><circle cx="543.67" cy="1187.1" r="1.5"/><circle cx="556.90" cy="1187.1" r="1.5"/><circle cx="570.12" cy="1187.1" r="1.5"/><circle cx="583.35" cy="1187.1" r="1.5"/><circle cx="596.58" cy="1187.1" r="1.5"/><circle cx="609.80" cy="1187.1" r="1.5"/><circle cx="623.02" cy="1187.1" r="1.5"/><circle cx="636.25" cy="1187.1" r="1.5"/><circle cx="649.48" cy="1187.1" r="1.5"/><circle cx="662.70" cy="1187.1" r="1.5"/><circle cx="675.92" cy="1187.1" r="1.5"/><circle cx="689.15" cy="1187.1" r="1.5"/><circle cx="702.38" cy="1187.1" r="1.5"/><circle cx="715.60" cy="1187.1" r="1.5"/><circle cx="728.83" cy="1187.1" r="1.5"/><circle cx="742.05" cy="1187.1" r="1.5"/><circle cx="755.27" cy="1187.1" r="1.5"/><circle cx="768.50" cy="1187.1" r="1.5"/><circle cx="781.73" cy="1187.1" r="1.5"/><circle cx="794.95" cy="1187.1" r="1.5"/><circle cx="808.17" cy="1187.1" r="1.5"/><circle cx="821.40" cy="1187.1" r="1.5"/><circle cx="834.62" cy="1187.1" r="1.5"/><circle cx="847.85" cy="1187.1" r="1.5"/><circle cx="861.08" cy="1187.1" r="1.5"/><circle cx="874.30" cy="1187.1" r="1.5"/><circle cx="887.53" cy="1187.1" r="1.5"/><circle cx="900.75" cy="1187.1" r="1.5"/><circle cx="913.97" cy="1187.1" r="1.5"/><circle cx="927.20" cy="1187.1" r="1.5"/><circle cx="940.42" cy="1187.1" r="1.5"/><circle cx="953.65" cy="1187.1" r="1.5"/><circle cx="966.88" cy="1187.1" r="1.5"/><circle cx="980.10" cy="1187.1" r="1.5"/><circle cx="993.33" cy="1187.1" r="1.5"/><circle cx="1006.55" cy="1187.1" r="1.5"/><circle cx="1019.78" cy="1187.1" r="1.5"/><circle cx="1033.00" cy="1187.1" r="1.5"/><circle cx="1046.22" cy="1187.1" r="1.5"/><circle cx="1059.45" cy="1187.1" r="1.5"/><circle cx="1072.67" cy="1187.1" r="1.5"/><circle cx="1085.90" cy="1187.1" r="1.5"/><circle cx="1099.12" cy="1187.1" r="1.5"/><circle cx="1112.35" cy="1187.1" r="1.5"/><circle cx="1125.58" cy="1187.1" r="1.5"/><circle cx="1138.80" cy="1187.1" r="1.5"/><circle cx="1152.03" cy="1187.1" r="1.5"/><circle cx="1165.25" cy="1187.1" r="1.5"/><circle cx="1178.47" cy="1187.1" r="1.5"/><circle cx="1191.70" cy="1187.1" r="1.5"/><circle cx="1204.92" cy="1187.1" r="1.5"/><circle cx="1218.15" cy="1187.1" r="1.5"/><circle cx="1231.38" cy="1187.1" r="1.5"/><circle cx="1244.60" cy="1187.1" r="1.5"/><circle cx="1257.83" cy="1187.1" r="1.5"/><circle cx="1271.05" cy="1187.1" r="1.5"/><circle cx="1284.28" cy="1187.1" r="1.5"/><circle cx="1297.50" cy="1187.1" r="1.5"/><circle cx="1310.72" cy="1187.1" r="1.5"/><circle cx="1323.95" cy="1187.1" r="1.5"/><circle cx="424.65" cy="1236.4" r="1.5"/><circle cx="437.88" cy="1236.4" r="1.5"/><circle cx="451.10" cy="1236.4" r="1.5"/><circle cx="464.32" cy="1236.4" r="1.5"/><circle cx="477.55" cy="1236.4" r="1.5"/><circle cx="490.77" cy="1236.4" r="1.5"/><circle cx="504.00" cy="1236.4" r="1.5"/><circle cx="517.23" cy="1236.4" r="1.5"/><circle cx="530.45" cy="1236.4" r="1.5"/><circle cx="543.67" cy="1236.4" r="1.5"/><circle cx="556.90" cy="1236.4" r="1.5"/><circle cx="570.12" cy="1236.4" r="1.5"/><circle cx="583.35" cy="1236.4" r="1.5"/><circle cx="596.58" cy="1236.4" r="1.5"/><circle cx="609.80" cy="1236.4" r="1.5"/><circle cx="623.02" cy="1236.4" r="1.5"/><circle cx="636.25" cy="1236.4" r="1.5"/><circle cx="649.48" cy="1236.4" r="1.5"/><circle cx="662.70" cy="1236.4" r="1.5"/><circle cx="675.92" cy="1236.4" r="1.5"/><circle cx="689.15" cy="1236.4" r="1.5"/><circle cx="702.38" cy="1236.4" r="1.5"/><circle cx="715.60" cy="1236.4" r="1.5"/><circle cx="728.83" cy="1236.4" r="1.5"/><circle cx="742.05" cy="1236.4" r="1.5"/><circle cx="755.27" cy="1236.4" r="1.5"/><circle cx="768.50" cy="1236.4" r="1.5"/><circle cx="781.73" cy="1236.4" r="1.5"/><circle cx="794.95" cy="1236.4" r="1.5"/><circle cx="808.17" cy="1236.4" r="1.5"/><circle cx="821.40" cy="1236.4" r="1.5"/><circle cx="834.62" cy="1236.4" r="1.5"/><circle cx="847.85" cy="1236.4" r="1.5"/><circle cx="861.08" cy="1236.4" r="1.5"/><circle cx="874.30" cy="1236.4" r="1.5"/><circle cx="887.53" cy="1236.4" r="1.5"/><circle cx="900.75" cy="1236.4" r="1.5"/><circle cx="913.97" cy="1236.4" r="1.5"/><circle cx="927.20" cy="1236.4" r="1.5"/><circle cx="940.42" cy="1236.4" r="1.5"/><circle cx="953.65" cy="1236.4" r="1.5"/><circle cx="966.88" cy="1236.4" r="1.5"/><circle cx="980.10" cy="1236.4" r="1.5"/><circle cx="993.33" cy="1236.4" r="1.5"/><circle cx="1006.55" cy="1236.4" r="1.5"/><circle cx="1019.78" cy="1236.4" r="1.5"/><circle cx="1033.00" cy="1236.4" r="1.5"/><circle cx="1046.22" cy="1236.4" r="1.5"/><circle cx="1059.45" cy="1236.4" r="1.5"/><circle cx="1072.67" cy="1236.4" r="1.5"/><circle cx="1085.90" cy="1236.4" r="1.5"/><circle cx="1099.12" cy="1236.4" r="1.5"/><circle cx="1112.35" cy="1236.4" r="1.5"/><circle cx="1125.58" cy="1236.4" r="1.5"/><circle cx="1138.80" cy="1236.4" r="1.5"/><circle cx="1152.03" cy="1236.4" r="1.5"/><circle cx="1165.25" cy="1236.4" r="1.5"/><circle cx="1178.47" cy="1236.4" r="1.5"/><circle cx="1191.70" cy="1236.4" r="1.5"/><circle cx="1204.92" cy="1236.4" r="1.5"/><circle cx="1218.15" cy="1236.4" r="1.5"/><circle cx="1231.38" cy="1236.4" r="1.5"/><circle cx="1244.60" cy="1236.4" r="1.5"/><circle cx="1257.83" cy="1236.4" r="1.5"/><circle cx="1271.05" cy="1236.4" r="1.5"/><circle cx="1284.28" cy="1236.4" r="1.5"/><circle cx="1297.50" cy="1236.4" r="1.5"/><circle cx="1310.72" cy="1236.4" r="1.5"/><circle cx="1323.95" cy="1236.4" r="1.5"/><circle cx="1337.17" cy="1236.4" r="1.5"/><circle cx="1350.40" cy="1236.4" r="1.5"/><circle cx="424.65" cy="1285.7" r="1.5"/><circle cx="437.88" cy="1285.7" r="1.5"/><circle cx="451.10" cy="1285.7" r="1.5"/><circle cx="464.32" cy="1285.7" r="1.5"/><circle cx="477.55" cy="1285.7" r="1.5"/><circle cx="490.77" cy="1285.7" r="1.5"/><circle cx="504.00" cy="1285.7" r="1.5"/><circle cx="517.23" cy="1285.7" r="1.5"/><circle cx="530.45" cy="1285.7" r="1.5"/><circle cx="543.67" cy="1285.7" r="1.5"/><circle cx="556.90" cy="1285.7" r="1.5"/><circle cx="570.12" cy="1285.7" r="1.5"/><circle cx="583.35" cy="1285.7" r="1.5"/><circle cx="596.58" cy="1285.7" r="1.5"/><circle cx="609.80" cy="1285.7" r="1.5"/><circle cx="623.02" cy="1285.7" r="1.5"/><circle cx="636.25" cy="1285.7" r="1.5"/><circle cx="649.48" cy="1285.7" r="1.5"/><circle cx="662.70" cy="1285.7" r="1.5"/><circle cx="675.92" cy="1285.7" r="1.5"/><circle cx="689.15" cy="1285.7" r="1.5"/><circle cx="702.38" cy="1285.7" r="1.5"/><circle cx="715.60" cy="1285.7" r="1.5"/><circle cx="728.83" cy="1285.7" r="1.5"/><circle cx="742.05" cy="1285.7" r="1.5"/><circle cx="755.27" cy="1285.7" r="1.5"/><circle cx="768.50" cy="1285.7" r="1.5"/><circle cx="781.73" cy="1285.7" r="1.5"/><circle cx="794.95" cy="1285.7" r="1.5"/><circle cx="808.17" cy="1285.7" r="1.5"/><circle cx="821.40" cy="1285.7" r="1.5"/><circle cx="834.62" cy="1285.7" r="1.5"/><circle cx="847.85" cy="1285.7" r="1.5"/><circle cx="861.08" cy="1285.7" r="1.5"/><circle cx="874.30" cy="1285.7" r="1.5"/><circle cx="887.53" cy="1285.7" r="1.5"/><circle cx="900.75" cy="1285.7" r="1.5"/><circle cx="913.97" cy="1285.7" r="1.5"/><circle cx="927.20" cy="1285.7" r="1.5"/><circle cx="940.42" cy="1285.7" r="1.5"/><circle cx="953.65" cy="1285.7" r="1.5"/><circle cx="966.88" cy="1285.7" r="1.5"/><circle cx="980.10" cy="1285.7" r="1.5"/><circle cx="993.33" cy="1285.7" r="1.5"/><circle cx="1006.55" cy="1285.7" r="1.5"/><circle cx="1019.78" cy="1285.7" r="1.5"/><circle cx="1033.00" cy="1285.7" r="1.5"/><circle cx="1046.22" cy="1285.7" r="1.5"/><circle cx="1059.45" cy="1285.7" r="1.5"/><circle cx="1072.67" cy="1285.7" r="1.5"/><circle cx="1085.90" cy="1285.7" r="1.5"/><circle cx="1099.12" cy="1285.7" r="1.5"/><circle cx="1112.35" cy="1285.7" r="1.5"/><circle cx="1125.58" cy="1285.7" r="1.5"/><circle cx="1138.80" cy="1285.7" r="1.5"/><circle cx="1152.03" cy="1285.7" r="1.5"/><circle cx="1165.25" cy="1285.7" r="1.5"/><circle cx="1178.47" cy="1285.7" r="1.5"/><circle cx="1191.70" cy="1285.7" r="1.5"/><circle cx="1204.92" cy="1285.7" r="1.5"/><circle cx="1218.15" cy="1285.7" r="1.5"/><circle cx="1231.38" cy="1285.7" r="1.5"/><circle cx="1244.60" cy="1285.7" r="1.5"/><circle cx="1257.83" cy="1285.7" r="1.5"/><circle cx="1271.05" cy="1285.7" r="1.5"/><circle cx="1284.28" cy="1285.7" r="1.5"/><circle cx="1297.50" cy="1285.7" r="1.5"/><circle cx="1310.72" cy="1285.7" r="1.5"/><circle cx="1323.95" cy="1285.7" r="1.5"/><circle cx="332.07" cy="1335.1" r="1.5"/><circle cx="345.30" cy="1335.1" r="1.5"/><circle cx="358.53" cy="1335.1" r="1.5"/><circle cx="371.75" cy="1335.1" r="1.5"/><circle cx="384.98" cy="1335.1" r="1.5"/><circle cx="398.20" cy="1335.1" r="1.5"/><circle cx="411.43" cy="1335.1" r="1.5"/><circle cx="424.65" cy="1335.1" r="1.5"/><circle cx="437.88" cy="1335.1" r="1.5"/><circle cx="451.10" cy="1335.1" r="1.5"/><circle cx="464.32" cy="1335.1" r="1.5"/><circle cx="477.55" cy="1335.1" r="1.5"/><circle cx="490.77" cy="1335.1" r="1.5"/><circle cx="504.00" cy="1335.1" r="1.5"/><circle cx="517.23" cy="1335.1" r="1.5"/><circle cx="530.45" cy="1335.1" r="1.5"/><circle cx="543.67" cy="1335.1" r="1.5"/><circle cx="556.90" cy="1335.1" r="1.5"/><circle cx="570.12" cy="1335.1" r="1.5"/><circle cx="583.35" cy="1335.1" r="1.5"/><circle cx="596.58" cy="1335.1" r="1.5"/><circle cx="609.80" cy="1335.1" r="1.5"/><circle cx="623.02" cy="1335.1" r="1.5"/><circle cx="636.25" cy="1335.1" r="1.5"/><circle cx="649.48" cy="1335.1" r="1.5"/><circle cx="662.70" cy="1335.1" r="1.5"/><circle cx="675.92" cy="1335.1" r="1.5"/><circle cx="689.15" cy="1335.1" r="1.5"/><circle cx="702.38" cy="1335.1" r="1.5"/><circle cx="715.60" cy="1335.1" r="1.5"/><circle cx="728.83" cy="1335.1" r="1.5"/><circle cx="742.05" cy="1335.1" r="1.5"/><circle cx="755.27" cy="1335.1" r="1.5"/><circle cx="768.50" cy="1335.1" r="1.5"/><circle cx="781.73" cy="1335.1" r="1.5"/><circle cx="794.95" cy="1335.1" r="1.5"/><circle cx="808.17" cy="1335.1" r="1.5"/><circle cx="821.40" cy="1335.1" r="1.5"/><circle cx="834.62" cy="1335.1" r="1.5"/><circle cx="847.85" cy="1335.1" r="1.5"/><circle cx="861.08" cy="1335.1" r="1.5"/><circle cx="874.30" cy="1335.1" r="1.5"/><circle cx="887.53" cy="1335.1" r="1.5"/><circle cx="900.75" cy="1335.1" r="1.5"/><circle cx="913.97" cy="1335.1" r="1.5"/><circle cx="927.20" cy="1335.1" r="1.5"/><circle cx="940.42" cy="1335.1" r="1.5"/><circle cx="953.65" cy="1335.1" r="1.5"/><circle cx="966.88" cy="1335.1" r="1.5"/><circle cx="980.10" cy="1335.1" r="1.5"/><circle cx="993.33" cy="1335.1" r="1.5"/><circle cx="1006.55" cy="1335.1" r="1.5"/><circle cx="1019.78" cy="1335.1" r="1.5"/><circle cx="1033.00" cy="1335.1" r="1.5"/><circle cx="1046.22" cy="1335.1" r="1.5"/><circle cx="1059.45" cy="1335.1" r="1.5"/><circle cx="1072.67" cy="1335.1" r="1.5"/><circle cx="1085.90" cy="1335.1" r="1.5"/><circle cx="1099.12" cy="1335.1" r="1.5"/><circle cx="1112.35" cy="1335.1" r="1.5"/><circle cx="1125.58" cy="1335.1" r="1.5"/><circle cx="1138.80" cy="1335.1" r="1.5"/><circle cx="1152.03" cy="1335.1" r="1.5"/><circle cx="1165.25" cy="1335.1" r="1.5"/><circle cx="1178.47" cy="1335.1" r="1.5"/><circle cx="1191.70" cy="1335.1" r="1.5"/><circle cx="1204.92" cy="1335.1" r="1.5"/><circle cx="1218.15" cy="1335.1" r="1.5"/><circle cx="1231.38" cy="1335.1" r="1.5"/><circle cx="1244.60" cy="1335.1" r="1.5"/><circle cx="1257.83" cy="1335.1" r="1.5"/><circle cx="437.88" cy="1384.4" r="1.5"/><circle cx="451.10" cy="1384.4" r="1.5"/><circle cx="464.32" cy="1384.4" r="1.5"/><circle cx="477.55" cy="1384.4" r="1.5"/><circle cx="490.77" cy="1384.4" r="1.5"/><circle cx="504.00" cy="1384.4" r="1.5"/><circle cx="517.23" cy="1384.4" r="1.5"/><circle cx="530.45" cy="1384.4" r="1.5"/><circle cx="543.67" cy="1384.4" r="1.5"/><circle cx="556.90" cy="1384.4" r="1.5"/><circle cx="570.12" cy="1384.4" r="1.5"/><circle cx="583.35" cy="1384.4" r="1.5"/><circle cx="596.58" cy="1384.4" r="1.5"/><circle cx="609.80" cy="1384.4" r="1.5"/><circle cx="623.02" cy="1384.4" r="1.5"/><circle cx="636.25" cy="1384.4" r="1.5"/><circle cx="649.48" cy="1384.4" r="1.5"/><circle cx="662.70" cy="1384.4" r="1.5"/><circle cx="675.92" cy="1384.4" r="1.5"/><circle cx="689.15" cy="1384.4" r="1.5"/><circle cx="702.38" cy="1384.4" r="1.5"/><circle cx="715.60" cy="1384.4" r="1.5"/><circle cx="728.83" cy="1384.4" r="1.5"/><circle cx="742.05" cy="1384.4" r="1.5"/><circle cx="755.27" cy="1384.4" r="1.5"/><circle cx="768.50" cy="1384.4" r="1.5"/><circle cx="781.73" cy="1384.4" r="1.5"/><circle cx="794.95" cy="1384.4" r="1.5"/><circle cx="808.17" cy="1384.4" r="1.5"/><circle cx="821.40" cy="1384.4" r="1.5"/><circle cx="834.62" cy="1384.4" r="1.5"/><circle cx="847.85" cy="1384.4" r="1.5"/><circle cx="861.08" cy="1384.4" r="1.5"/><circle cx="874.30" cy="1384.4" r="1.5"/><circle cx="887.53" cy="1384.4" r="1.5"/><circle cx="900.75" cy="1384.4" r="1.5"/><circle cx="913.97" cy="1384.4" r="1.5"/><circle cx="927.20" cy="1384.4" r="1.5"/><circle cx="940.42" cy="1384.4" r="1.5"/><circle cx="953.65" cy="1384.4" r="1.5"/><circle cx="966.88" cy="1384.4" r="1.5"/><circle cx="980.10" cy="1384.4" r="1.5"/><circle cx="993.33" cy="1384.4" r="1.5"/><circle cx="1006.55" cy="1384.4" r="1.5"/><circle cx="1019.78" cy="1384.4" r="1.5"/><circle cx="1033.00" cy="1384.4" r="1.5"/><circle cx="1046.22" cy="1384.4" r="1.5"/><circle cx="1059.45" cy="1384.4" r="1.5"/><circle cx="1072.67" cy="1384.4" r="1.5"/><circle cx="1085.90" cy="1384.4" r="1.5"/><circle cx="1099.12" cy="1384.4" r="1.5"/><circle cx="1112.35" cy="1384.4" r="1.5"/><circle cx="1125.58" cy="1384.4" r="1.5"/><circle cx="1138.80" cy="1384.4" r="1.5"/><circle cx="1152.03" cy="1384.4" r="1.5"/><circle cx="1165.25" cy="1384.4" r="1.5"/><circle cx="1178.47" cy="1384.4" r="1.5"/><circle cx="1191.70" cy="1384.4" r="1.5"/><circle cx="1204.92" cy="1384.4" r="1.5"/></svg>
</body></html>
